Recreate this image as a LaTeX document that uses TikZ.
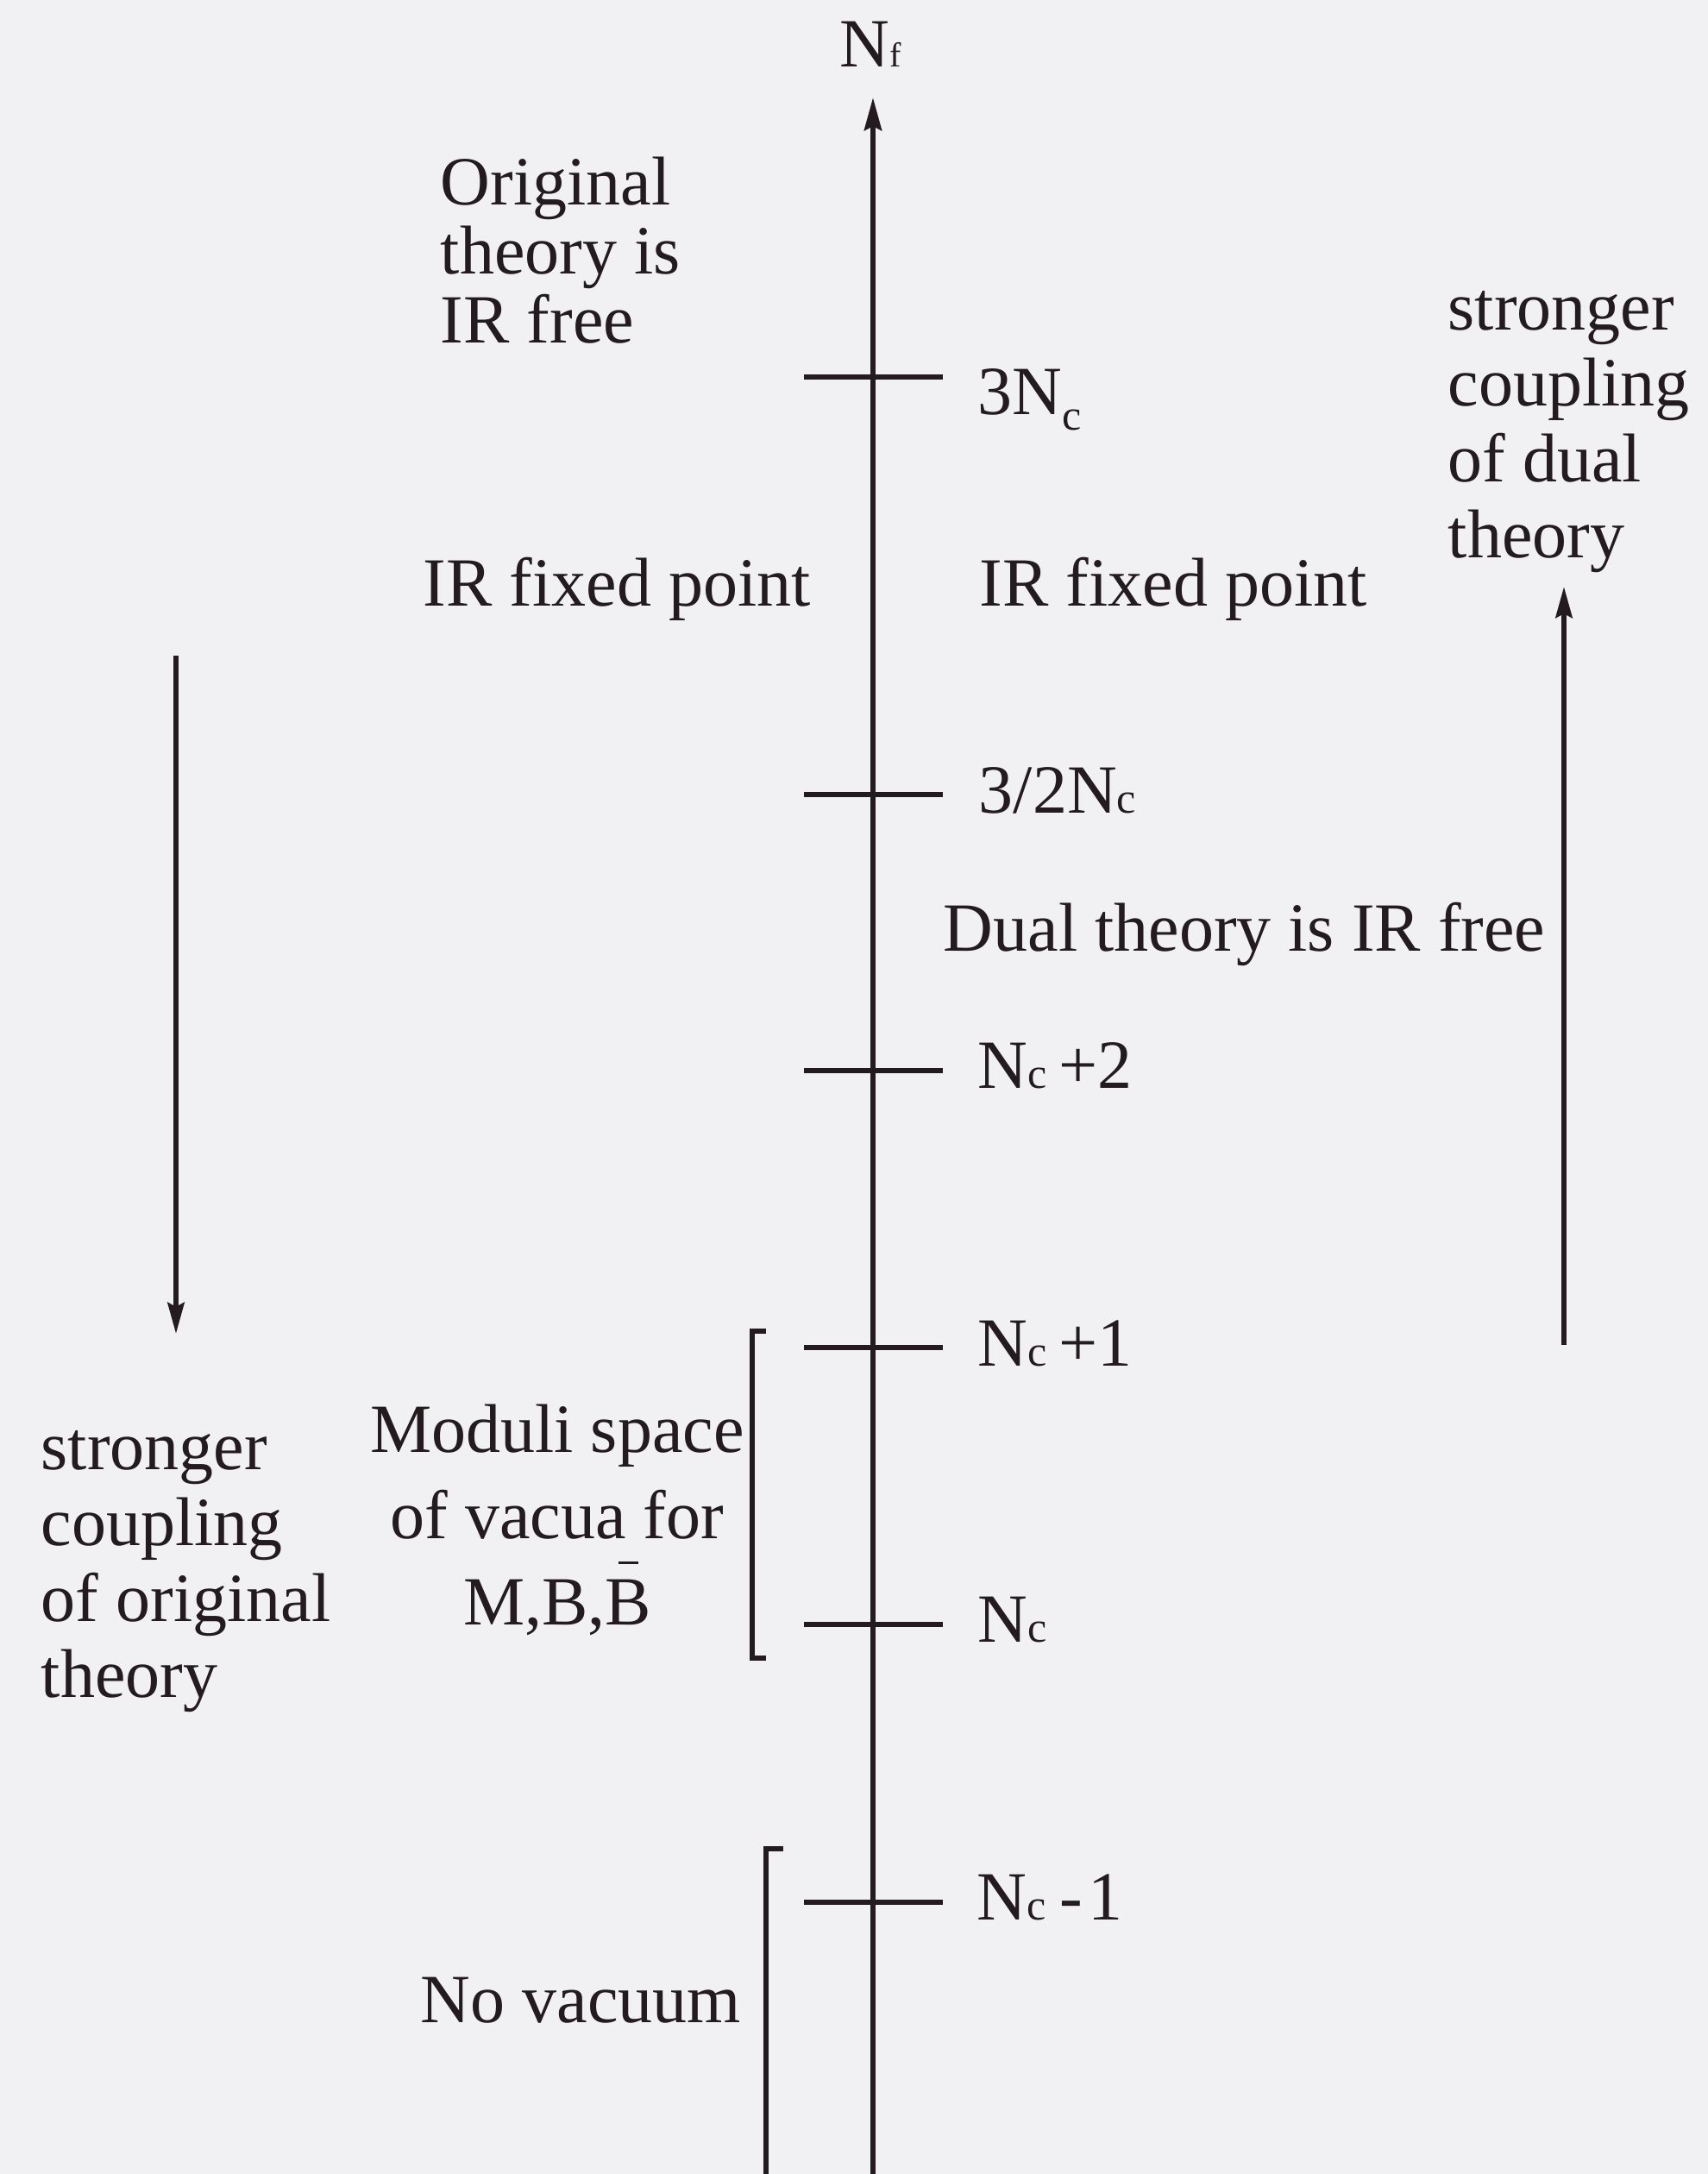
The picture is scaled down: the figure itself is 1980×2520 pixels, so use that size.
\documentclass[tikz,border=0pt]{standalone}
\usepackage{fontspec}
\setmainfont{Liberation Serif}
\usetikzlibrary{arrows.meta}
\definecolor{ink}{RGB}{36,27,31}
\definecolor{paper}{RGB}{241,241,243}
\newcommand{\smc}{{\fontsize{12.5pt}{12.5pt}\selectfont c}}
\newcommand{\barB}{\leavevmode\rlap{\hbox to 13.3pt{\hss\raisebox{17.5pt}{\rule{5.8pt}{0.7pt}}\hss}}B}
\begin{document}
\begin{tikzpicture}[x=0.25pt,y=-0.25pt,
  txt/.style={inner sep=0pt, text=ink, font=\fontsize{20pt}{20pt}\selectfont},
  tickline/.style={draw=ink, line width=1.6pt},
  bracketline/.style={draw=ink, line width=1.5pt},
  axisarrow/.style={draw=ink, line width=1.6pt, -{Stealth[length=9.5pt,width=5pt,inset=1.2pt]}},
  sidearrow/.style={draw=ink, line width=1.5pt, -{Stealth[length=9pt,width=4.8pt,inset=1.2pt]}}]
\fill[paper] (0,0) rectangle (1980,2520);
\useasboundingbox (0,0) rectangle (1980,2520);

% axis
\coordinate (axB) at (1012,2530);
\coordinate (axT) at (1012,113);
\draw[axisarrow] (axB) -- (axT);
\node[txt, anchor=base west] (Nf) at (973,77) {N{\fontsize{10pt}{10pt}\selectfont f}};

% ticks
\foreach \y/\n in {437/t1, 921/t2, 1241/t3, 1562/t4, 1883/t5, 2205/t6} {
  \coordinate (\n) at (1012,\y);
  \draw[tickline] (932,\y) -- (1093,\y);
}

% tick labels
\node[txt, anchor=base west] (l3Nc) at (1133,480) {3N\raisebox{-4.5pt}{\smc}};
\node[txt, anchor=base west] (l32Nc) at (1134,942) {3/2N\smc};
\node[txt, anchor=base west] (lNc2) at (1133,1261) {N\smc\hspace{3.5pt}+2};
\node[txt, anchor=base west] (lNc1) at (1133,1583) {N\smc\hspace{3.5pt}+1};
\node[txt, anchor=base west] (lNc) at (1133,1903) {N\smc};
\node[txt, anchor=base west] (lNcm) at (1132,2225) {N\smc\hspace{4pt}-\hspace{1.5pt}1};

% region texts (base anchor = baseline of the last line)
\node[txt, anchor=base west, align=left, font=\fontsize{20pt}{20pt}\selectfont] (orig) at (510,397) {Original\\theory is\\IR free};
\node[txt, anchor=base west] (irL) at (490,702) {IR fixed point};
\node[txt, anchor=base west] (irR) at (1135,702) {IR fixed point};
\node[txt, anchor=base west] (dual) at (1093,1102) {Dual theory is IR free};
\node[txt, anchor=base, align=center, font=\fontsize{20pt}{25pt}\selectfont] (moduli) at (646,1883) {Moduli space\\of vacua for\\M,B,\barB};
\node[txt, anchor=base west] (novac) at (487,2344) {No vacuum};
\node[txt, anchor=base west, align=left, font=\fontsize{20pt}{22pt}\selectfont] (strR) at (1678,646) {stronger\\coupling\\of dual\\theory};
\node[txt, anchor=base west, align=left, font=\fontsize{20pt}{22pt}\selectfont] (strL) at (47,1967) {stronger\\coupling\\of original\\theory};

% side arrows
\coordinate (laT) at (204,760);
\coordinate (laB) at (204,1546);
\draw[sidearrow] (laT) -- (laB);
\coordinate (raB) at (1813,1559);
\coordinate (raT) at (1813,680);
\draw[sidearrow] (raB) -- (raT);

% brackets
\draw[bracketline] (888,1543) -- (872,1543) -- (872,1922) -- (888,1922);
\draw[bracketline] (908,2143) -- (888,2143) -- (888,2530);
\end{tikzpicture}
\end{document}
